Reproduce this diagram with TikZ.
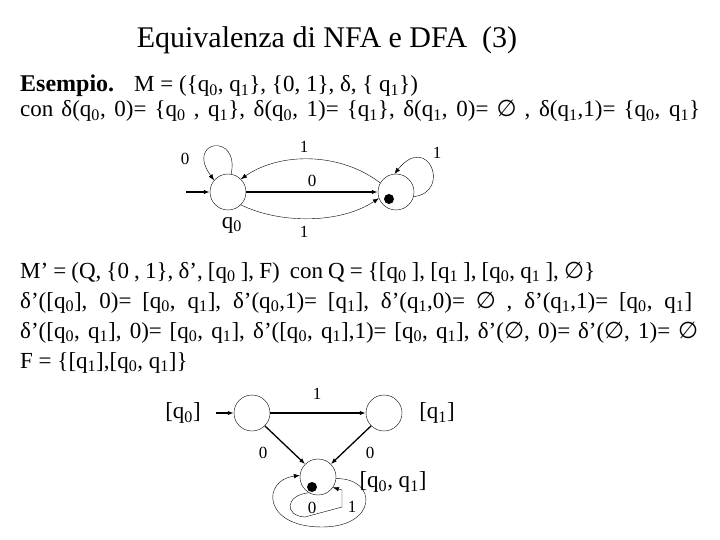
\documentclass[tikz,border=0pt]{standalone}
\usepackage{fontspec}
\setmainfont{Liberation Serif}
\newfontfamily\symfnt{DejaVu Sans}
\usetikzlibrary{arrows.meta}
\newcommand{\qsub}[1]{q\textsubscript{#1}}
\newcommand{\vuoto}{{\symfnt ∅}}
\newcommand{\riga}[2]{\makebox[#1pt][s]{#2}}
\begin{document}
\begin{tikzpicture}[x=1pt, y=-1pt, >={Latex[length=6pt,width=4.5pt]},
  state/.style={circle, draw, thin, minimum size=36pt, inner sep=0pt},
  lab/.style={font=\fontsize{17}{17}\selectfont},
  txt/.style={anchor=base west, inner sep=0pt, font=\fontsize{23}{23}\selectfont},
  edge/.style={->, line width=1.3pt},
  loop/.style={->, thin}]
\useasboundingbox (0,0) rectangle (720,540);

% titolo e testo
\node[anchor=base, inner sep=0pt, font=\fontsize{30}{30}\selectfont] (title) at (327,48) {Equivalenza di NFA e DFA\ \ (3)};
\node[txt, font=\fontsize{24}{24}\selectfont\bfseries] (es) at (20,92) {Esempio.};
\node[txt] (l1) at (134,92) {M = (\{\qsub0, \qsub1\}, \{0, 1\}, δ, \{ \qsub1\})};
\node[txt] (l2) at (20,117) {\riga{680}{con δ(\qsub0, 0)= \{\qsub0 , \qsub1\}, δ(\qsub0, 1)= \{\qsub1\}, δ(\qsub1, 0)= \vuoto\ , δ(\qsub1,1)= \{\qsub0, \qsub1\}}};
\node[txt] (l3) at (20,278) {\riga{575}{M’ = (Q, \{0 , 1\}, δ’, [\qsub0 ], F)\ \ con Q = \{[\qsub0 ], [\qsub1 ], [\qsub0, \qsub1 ], \vuoto\}}};
\node[txt] (l4) at (20,308) {\riga{672}{δ’([\qsub0], 0)= [\qsub0, \qsub1], δ’(\qsub0,1)= [\qsub1], δ’(\qsub1,0)= \vuoto\ , δ’(\qsub1,1)= [\qsub0, \qsub1]}};
\node[txt] (l5) at (20,338) {\riga{678}{δ’([\qsub0, \qsub1], 0)= [\qsub0, \qsub1], δ’([\qsub0, \qsub1],1)= [\qsub0, \qsub1], δ’(\vuoto, 0)= δ’(\vuoto, 1)= \vuoto}};
\node[txt] (l6) at (20,368) {F = \{[\qsub1],[\qsub0, \qsub1]\}};

% NFA
\node[state] (q0) at (228,192) {};
\node[state] (q1) at (396,192) {};
\fill (389,199) circle (5pt);
\coordinate (s0) at (186,192);
\draw[edge] (s0) -- (q0);
\draw[edge] (q0) -- (q1) node[lab, midway, above=1pt] (e0) {0};
\draw[loop] (q0.80) .. controls (240,132) and (185,140) .. (q0.140);
\node[lab] (lq0) at (185,159) {0};
\draw[loop] (q1.150) .. controls (340,152) and (280,152) .. (q0.45);
\node[lab] (e1a) at (304,147) {1};
\draw[loop] (q0.-45) .. controls (280,224) and (340,224) .. (q1.200);
\node[lab] (e1b) at (304,232) {1};
\draw[loop] (q1.-15) .. controls (452,192) and (428,132) .. (q1.95);
\node[lab] (lq1) at (437,153) {1};
\node[font=\fontsize{23}{23}\selectfont] (nq0) at (232,225) {\qsub0};

% DFA
\node[state] (a) at (252,413) {};
\node[state] (b) at (384,413) {};
\node[state] (c) at (318,477) {};
\fill (312,487) circle (5pt);
\coordinate (s1) at (216,413);
\draw[edge] (s1) -- (a);
\node[font=\fontsize{23}{23}\selectfont] (na) at (183,413) {[\qsub0]};
\node[font=\fontsize{23}{23}\selectfont] (nb) at (437,413) {[\qsub1]};
\node[font=\fontsize{23}{23}\selectfont] (nc) at (393,482) {[\qsub0, \qsub1]};
\draw[edge] (a) -- (b);
\node[lab] (ab) at (317,394) {1};
\draw[edge] (a.-45) -- (c.135);
\node[lab] (ac) at (263,453) {0};
\draw[edge] (b.225) -- (c.45);
\node[lab] (bc) at (370,453) {0};
\draw[loop] (c.-5) .. controls (378,478) and (378,527) .. (322,527)
  .. controls (262,527) and (262,480) .. (c.175);
\node[lab] (lc0) at (312,508) {0};
\draw[loop] (c.240) .. controls (285,495) and (284,516) .. (305,517) -- (342,507) -- (342,490) -- (c.-35);
\node[lab] (lc1) at (352,507) {1};
\end{tikzpicture}
\end{document}
